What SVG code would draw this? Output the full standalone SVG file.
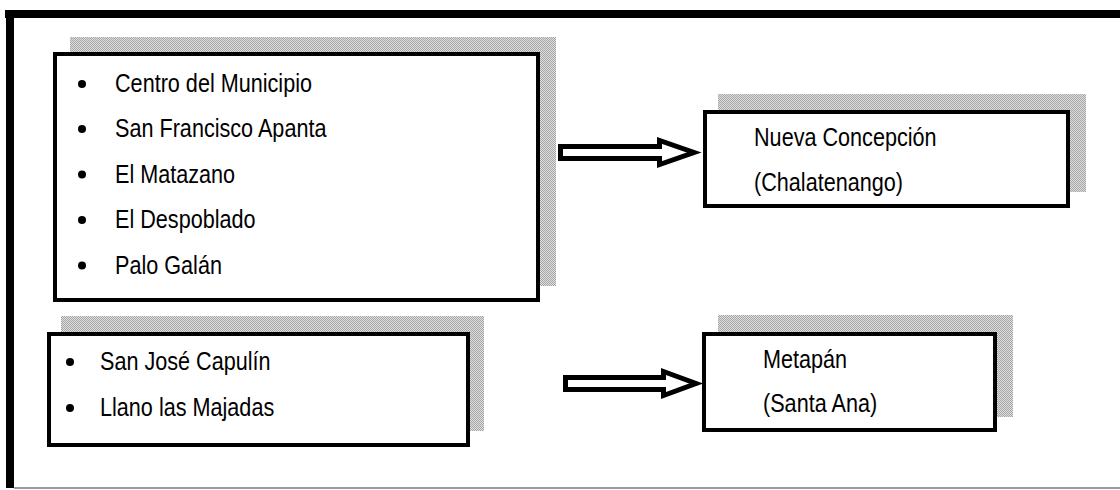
<svg xmlns="http://www.w3.org/2000/svg" width="1120" height="490" viewBox="0 0 1120 490">
<defs>
<pattern id="dither" width="2" height="2" patternUnits="userSpaceOnUse">
<rect width="2" height="2" fill="#dedede"/>
<rect width="1" height="1" fill="#a6a6a6"/>
<rect x="1" y="1" width="1" height="1" fill="#a6a6a6"/>
</pattern>
</defs>
<style>
.shadow{fill:url(#dither);}
.box{fill:#ffffff;stroke:#000000;stroke-width:4;}
.t{font-family:"Liberation Sans",Arial,sans-serif;font-size:25px;fill:#000000;}
.arrow{fill:#ffffff;stroke:#000000;stroke-width:5;stroke-linejoin:miter;}
</style>
<rect width="1120" height="490" fill="#ffffff"/>
<g id="frame">
<rect x="5" y="10" width="1115" height="8" fill="#000000"/>
<rect x="6" y="10" width="8" height="478" fill="#000000"/>
<line x1="14" y1="488" x2="1120" y2="488" stroke="#7a7a7a" stroke-width="1.5"/>
</g>
<g id="box1">
<rect class="shadow" x="70" y="37" width="486" height="249"/>
<rect class="box" x="55" y="54" width="483" height="246"/>
<circle cx="82" cy="84" r="4"/>
<circle cx="82" cy="129" r="4"/>
<circle cx="82" cy="174.5" r="4"/>
<circle cx="82" cy="220" r="4"/>
<circle cx="82" cy="265.5" r="4"/>
<text class="t" transform="translate(115,92) scale(0.865,1)">Centro del Municipio</text>
<text class="t" transform="translate(115,137) scale(0.865,1)">San Francisco Apanta</text>
<text class="t" transform="translate(115,182.5) scale(0.865,1)">El Matazano</text>
<text class="t" transform="translate(115,228) scale(0.865,1)">El Despoblado</text>
<text class="t" transform="translate(115,273.5) scale(0.865,1)">Palo Galán</text>
</g>
<g id="box2">
<rect class="shadow" x="61" y="316" width="423" height="115"/>
<rect class="box" x="49" y="334" width="419" height="111"/>
<circle cx="70" cy="362" r="4"/>
<circle cx="70" cy="408" r="4"/>
<text class="t" transform="translate(100,370) scale(0.865,1)">San José Capulín</text>
<text class="t" transform="translate(100,416) scale(0.865,1)">Llano las Majadas</text>
</g>
<g id="box3">
<rect class="shadow" x="718" y="94" width="368" height="98"/>
<rect class="box" x="705" y="112" width="363" height="94"/>
<text class="t" transform="translate(754,146) scale(0.865,1)">Nueva Concepción</text>
<text class="t" transform="translate(754,191) scale(0.865,1)">(Chalatenango)</text>
</g>
<g id="box4">
<rect class="shadow" x="718" y="315" width="295" height="102"/>
<rect class="box" x="704" y="334" width="291" height="96"/>
<text class="t" transform="translate(763,368) scale(0.865,1)">Metapán</text>
<text class="t" transform="translate(763,412) scale(0.865,1)">(Santa Ana)</text>
</g>
<g id="connectors">
<polygon class="arrow" points="560.5,146.5 659.5,146.5 659.5,140.5 694,152.5 659.5,164.5 659.5,158.5 560.5,158.5"/>
<polygon class="arrow" points="565.5,377.5 663.5,377.5 663.5,371.5 696,383.5 663.5,395.5 663.5,389.5 565.5,389.5"/>
</g>
</svg>
